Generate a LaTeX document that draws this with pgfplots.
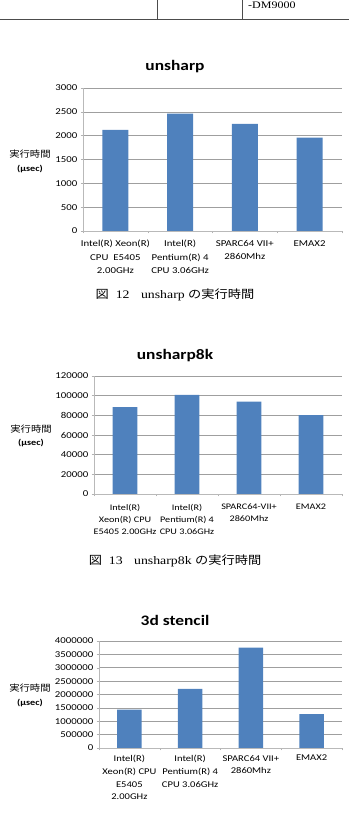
\documentclass[border=0pt]{standalone}
\usepackage{fontspec}
\usepackage{pgfplots}
\pgfplotsset{compat=1.18}
\newfontfamily\calf{Carlito}[FakeStretch=1.2]
\newfontfamily\jp{Noto Sans CJK JP}[FakeStretch=1.15]
\newfontfamily\ser{Liberation Serif}[FakeStretch=1.2]
\definecolor{barblue}{HTML}{4F81BD}
\newcommand\tickfont{\calf\fontsize{9}{13}\selectfont}
\pgfplotsset{excel/.style={
  scale only axis, anchor=south west,
  xmin=-0.5, xmax=3.5, ymin=0,
  scaled y ticks=false,
  ybar, bar width=0.4, bar shift=0pt,
  axis x line*=bottom, axis y line*=left,
  axis line style={draw=gray!55,-},
  tick align=outside, major tick length=2.5pt,
  tick style={draw=gray!60, line width=0.5pt},
  xtick={-0.5,0.5,1.5,2.5,3.5}, xticklabels={,,,,,},
  extra x ticks={0,1,2,3},
  yticklabel style={font=\tickfont, inner sep=0pt, xshift=-3pt},
  ymajorgrids, grid style={gray!75, line width=0.6pt},
  clip=false,
}}
\begin{document}
\begin{tikzpicture}
\useasboundingbox (0pt,0pt) rectangle (349pt,818pt);
% table fragment
\draw[black!70, line width=0.8pt] (0pt,799pt) -- (349pt,799pt);
\draw[black!70, line width=0.6pt] (157pt,799pt) -- (157pt,818pt) (242pt,799pt) -- (242pt,818pt);
\node[anchor=base west, inner sep=0pt, font=\ser\fontsize{10}{12}\selectfont] at (248pt,809pt) {-DM9000};

% ---------- chart 1
\node[font=\calf\bfseries\fontsize{14.5}{16}\selectfont] at (175pt,751pt) {unsharp};
\node[font=\jp\fontsize{9}{10}\selectfont] at (30pt,664pt) {実行時間};
\node[font=\calf\bfseries\fontsize{8.5}{9}\selectfont] at (30pt,649pt) {(µsec)};
\begin{axis}[excel, at={(83pt,587pt)}, width=259pt, height=143pt, ymax=3000,
  extra x tick style={major tick length=0pt,
     tick label style={font=\calf\fontsize{9}{13.5}\selectfont, align=center, anchor=north, inner sep=0pt, yshift=-9pt}},
  ytick={0,500,1000,1500,2000,2500,3000},
  yticklabels={0,500,1000,1500,2000,2500,3000},
  extra x tick labels={{Intel(R) Xeon(R)\\CPU\ \ E5405\\2.00GHz},{Intel(R)\\Pentium(R) 4\\CPU 3.06GHz},{SPARC64 VII+\\2860Mhz},{EMAX2}}]
\addplot[fill=barblue, draw=none] coordinates {(0,2120) (1,2460) (2,2245) (3,1960)};
\end{axis}
\node[font=\ser\fontsize{11.5}{13}\selectfont] at (175pt,523pt) {{\jp 図}\ \ 12\quad unsharp {\jp の実行時間}};

% ---------- chart 2
\node[font=\calf\bfseries\fontsize{14.5}{16}\selectfont] at (175pt,462pt) {unsharp8k};
\node[font=\jp\fontsize{9}{10}\selectfont] at (31pt,389pt) {実行時間};
\node[font=\calf\bfseries\fontsize{8.5}{9}\selectfont] at (31pt,375pt) {(µsec)};
\begin{axis}[excel, at={(94pt,324pt)}, width=248pt, height=118pt, ymax=120000,
  extra x tick style={major tick length=0pt,
     tick label style={font=\calf\fontsize{8.5}{12}\selectfont, align=center, anchor=north, inner sep=0pt, yshift=-10pt}},
  ytick={0,20000,40000,60000,80000,100000,120000},
  yticklabels={0,20000,40000,60000,80000,100000,120000},
  extra x tick labels={{Intel(R)\\Xeon(R) CPU\\E5405 2.00GHz},{Intel(R)\\Pentium(R) 4\\CPU 3.06GHz},{SPARC64-VII+\\2860Mhz},{EMAX2}}]
\addplot[fill=barblue, draw=none] coordinates {(0,88300) (1,100800) (2,94000) (3,80200)};
\end{axis}
\node[font=\ser\fontsize{11.5}{13}\selectfont] at (175pt,257pt) {{\jp 図}\ \ 13\quad unsharp8k {\jp の実行時間}};

% ---------- chart 3
\node[font=\calf\bfseries\fontsize{14.5}{16}\selectfont] at (175pt,198pt) {3d stencil};
\node[font=\jp\fontsize{9}{10}\selectfont] at (30pt,130pt) {実行時間};
\node[font=\calf\bfseries\fontsize{8.5}{9}\selectfont] at (30pt,115pt) {(µsec)};
\begin{axis}[excel, at={(99pt,70pt)}, width=243pt, height=107pt, ymax=4000000,
  extra x tick style={major tick length=0pt,
     tick label style={font=\calf\fontsize{8.8}{12.7}\selectfont, align=center, anchor=north, inner sep=0pt, yshift=-7pt}},
  ytick={0,500000,1000000,1500000,2000000,2500000,3000000,3500000,4000000},
  yticklabels={0,500000,1000000,1500000,2000000,2500000,3000000,3500000,4000000},
  extra x tick labels={{Intel(R)\\Xeon(R) CPU\\E5405\\2.00GHz},{Intel(R)\\Pentium(R) 4\\CPU 3.06GHz},{SPARC64 VII+\\2860Mhz},{EMAX2}}]
\addplot[fill=barblue, draw=none] coordinates {(0,1430000) (1,2210000) (2,3750000) (3,1270000)};
\end{axis}
\end{tikzpicture}
\end{document}
